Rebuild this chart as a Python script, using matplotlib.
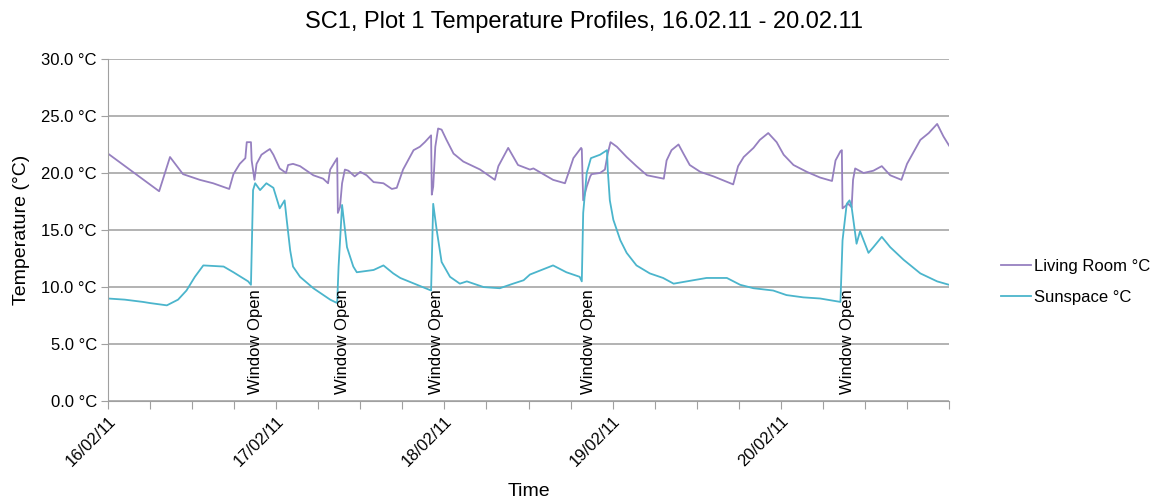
import matplotlib.pyplot as plt

plt.rcParams['font.family'] = ['Liberation Sans', 'DejaVu Sans']

# hours since 16/02/11 00:00
living_hours = [0.0, 7.3, 8.85, 10.7, 13.1, 15.0, 17.3, 17.9, 18.8, 19.6, 19.8, 20.4, 20.5, 20.9,
                21.2, 21.9, 22.6, 23.1, 23.6, 24.5, 25.4, 25.7, 26.4, 27.4, 29.3, 30.7, 31.4, 31.7,
                32.7, 32.8, 33.1, 33.4, 33.8, 34.3, 35.2, 36.0, 36.9, 37.9, 39.3, 40.5, 41.2, 42.1,
                43.6, 44.5, 45.2, 46.1, 46.2, 46.4, 46.7, 47.1, 47.6, 48.3, 49.3, 50.7, 53.1, 55.2,
                55.7, 57.1, 58.5, 60.2, 60.7, 63.5, 65.2, 65.7, 66.4, 67.5, 67.6, 67.8, 68.3, 68.8,
                69.0, 70.2, 70.9, 71.3, 71.7, 72.6, 74.0, 75.4, 76.9, 79.3, 79.7, 80.4, 81.4, 82.1,
                83.0, 84.5, 86.4, 89.2, 89.9, 90.7, 92.1, 93.0, 94.2, 95.4, 96.4, 97.8, 99.7, 101.6,
                103.3, 103.8, 104.5, 104.7, 104.8, 105.6, 106.1, 106.3, 106.6, 107.8, 109.2, 110.4,
                111.6, 113.2, 114.0, 115.9, 117.1, 118.3, 119.2, 120.0]
living_temp = [21.7, 18.4, 21.4, 19.9, 19.4, 19.1, 18.6, 19.9, 20.8, 21.3, 22.7, 22.7, 21.1, 19.4,
               20.8, 21.6, 21.9, 22.1, 21.6, 20.4, 20.0, 20.7, 20.8, 20.6, 19.8, 19.5, 19.1, 20.3,
               21.3, 16.5, 17.0, 19.1, 20.3, 20.2, 19.7, 20.1, 19.8, 19.2, 19.1, 18.6, 18.7, 20.3,
               22.0, 22.3, 22.7, 23.3, 18.1, 18.8, 22.3, 23.9, 23.8, 22.9, 21.7, 21.0, 20.3, 19.4,
               20.6, 22.2, 20.7, 20.3, 20.4, 19.4, 19.1, 20.0, 21.3, 22.2, 22.1, 17.6, 18.8, 19.7,
               19.9, 20.0, 20.3, 21.7, 22.7, 22.3, 21.4, 20.6, 19.8, 19.5, 21.1, 22.0, 22.5, 21.7,
               20.7, 20.1, 19.7, 19.0, 20.6, 21.4, 22.2, 22.9, 23.5, 22.7, 21.6, 20.7, 20.1, 19.6,
               19.3, 21.1, 21.9, 22.0, 16.9, 17.3, 17.0, 19.4, 20.4, 20.0, 20.2, 20.6,
               19.8, 19.4, 20.8, 22.9, 23.5, 24.3, 23.2, 22.4]

sun_hours = [0.0, 2.4, 5.0, 6.0, 8.4, 10.0, 11.2, 12.4, 13.6, 16.5, 17.9, 20.0, 20.4, 20.7, 21.0,
             21.7, 22.6, 23.6, 24.5, 25.2, 25.5, 26.0, 26.4, 27.4, 29.3, 31.7, 32.7, 32.9, 33.4,
             34.1, 35.0, 35.5, 37.9, 39.3, 40.7, 41.7, 44.1, 46.1, 46.4, 46.9, 47.6, 48.8, 50.2,
             51.2, 53.6, 55.9, 57.8, 59.3, 60.2, 63.5, 65.4, 67.3, 67.6, 67.8, 68.3, 68.9, 70.2,
             71.2, 71.3, 71.6, 72.1, 73.1, 74.0, 75.4, 77.3, 79.2, 80.7, 83.5, 85.4, 88.3, 90.2,
             92.1, 94.9, 96.8, 99.2, 101.6, 104.5, 104.8, 105.4, 105.8, 106.1, 106.8, 107.3, 108.5,
             109.2, 110.4, 111.6, 113.5, 115.9, 118.3, 120.0]
sun_temp = [9.0, 8.9, 8.7, 8.6, 8.4, 8.9, 9.7, 10.9, 11.9, 11.8, 11.3, 10.5, 10.2, 18.5, 19.1,
            18.5, 19.1, 18.7, 16.9, 17.6, 15.9, 13.2, 11.8, 10.9, 9.9, 8.9, 8.6, 11.8, 17.2,
            13.5, 11.8, 11.3, 11.5, 11.9, 11.2, 10.8, 10.2, 9.7, 17.3, 15.0, 12.2, 10.9, 10.3,
            10.5, 10.0, 9.9, 10.3, 10.6, 11.1, 11.9, 11.3, 10.9, 10.5, 16.5, 20.0, 21.3, 21.6,
            22.0, 20.3, 17.6, 15.9, 14.1, 13.0, 11.9, 11.2, 10.8, 10.3, 10.6, 10.8, 10.8, 10.2,
            9.9, 9.7, 9.3, 9.1, 9.0, 8.7, 14.1, 17.3, 17.6, 17.0, 13.8, 14.9, 13.0,
            13.5, 14.4, 13.5, 12.4, 11.2, 10.5, 10.2]

window_open_hours = [21.0, 33.4, 46.8, 68.6, 105.5]

date_ticks = [0, 24, 48, 72, 96]
date_labels = ['16/02/11', '17/02/11', '18/02/11', '19/02/11', '20/02/11']

fig = plt.figure(figsize=(11.56, 4.99), dpi=100)
ax = fig.add_axes([0.0934, 0.196, 0.7276, 0.686])

ax.plot(living_hours, living_temp, color='#9680c0', lw=1.3, label='Living Room °C')
ax.plot(sun_hours, sun_temp, color='#4bb5cc', lw=1.3, label='Sunspace °C')

for h in window_open_hours:
    ax.text(h, 9.85, 'Window Open', rotation=90, ha='center', va='top', fontsize=12)

ax.set_xlim(0, 120)
ax.set_ylim(0, 30)
ax.set_yticks(range(0, 31, 5))
ax.set_yticklabels(['%.1f °C' % v for v in range(0, 31, 5)], fontsize=12)
ax.set_xticks(range(0, 121, 6))
ax.set_xticklabels([date_labels[date_ticks.index(t)] if t in date_ticks else '' for t in range(0, 121, 6)],
                   rotation=45, ha='right', rotation_mode='anchor', fontsize=12)
ax.tick_params(axis='x', length=6, color='#a0a0a0', pad=3)
ax.tick_params(axis='y', length=5, color='#a0a0a0', pad=3)
ax.grid(axis='y', color='#a6a6a6', lw=1.2)
ax.set_axisbelow(True)
for s in ['top', 'right']:
    ax.spines[s].set_visible(False)
ax.spines['left'].set_color('#a0a0a0')
ax.spines['bottom'].set_color('#a0a0a0')

ax.set_xlabel('Time', fontsize=14, labelpad=10)
ax.set_ylabel('Temperature (°C)', fontsize=14, labelpad=8)
fig.text(0.505, 0.955, 'SC1, Plot 1 Temperature Profiles, 16.02.11 - 20.02.11', fontsize=17,
         ha='center', va='center')

fig.legend(loc='center left', bbox_to_anchor=(0.853, 0.435), frameon=False, fontsize=12,
           handlelength=1.8, handletextpad=0.15, labelspacing=1.0)

fig.savefig('out.png', dpi=100)
